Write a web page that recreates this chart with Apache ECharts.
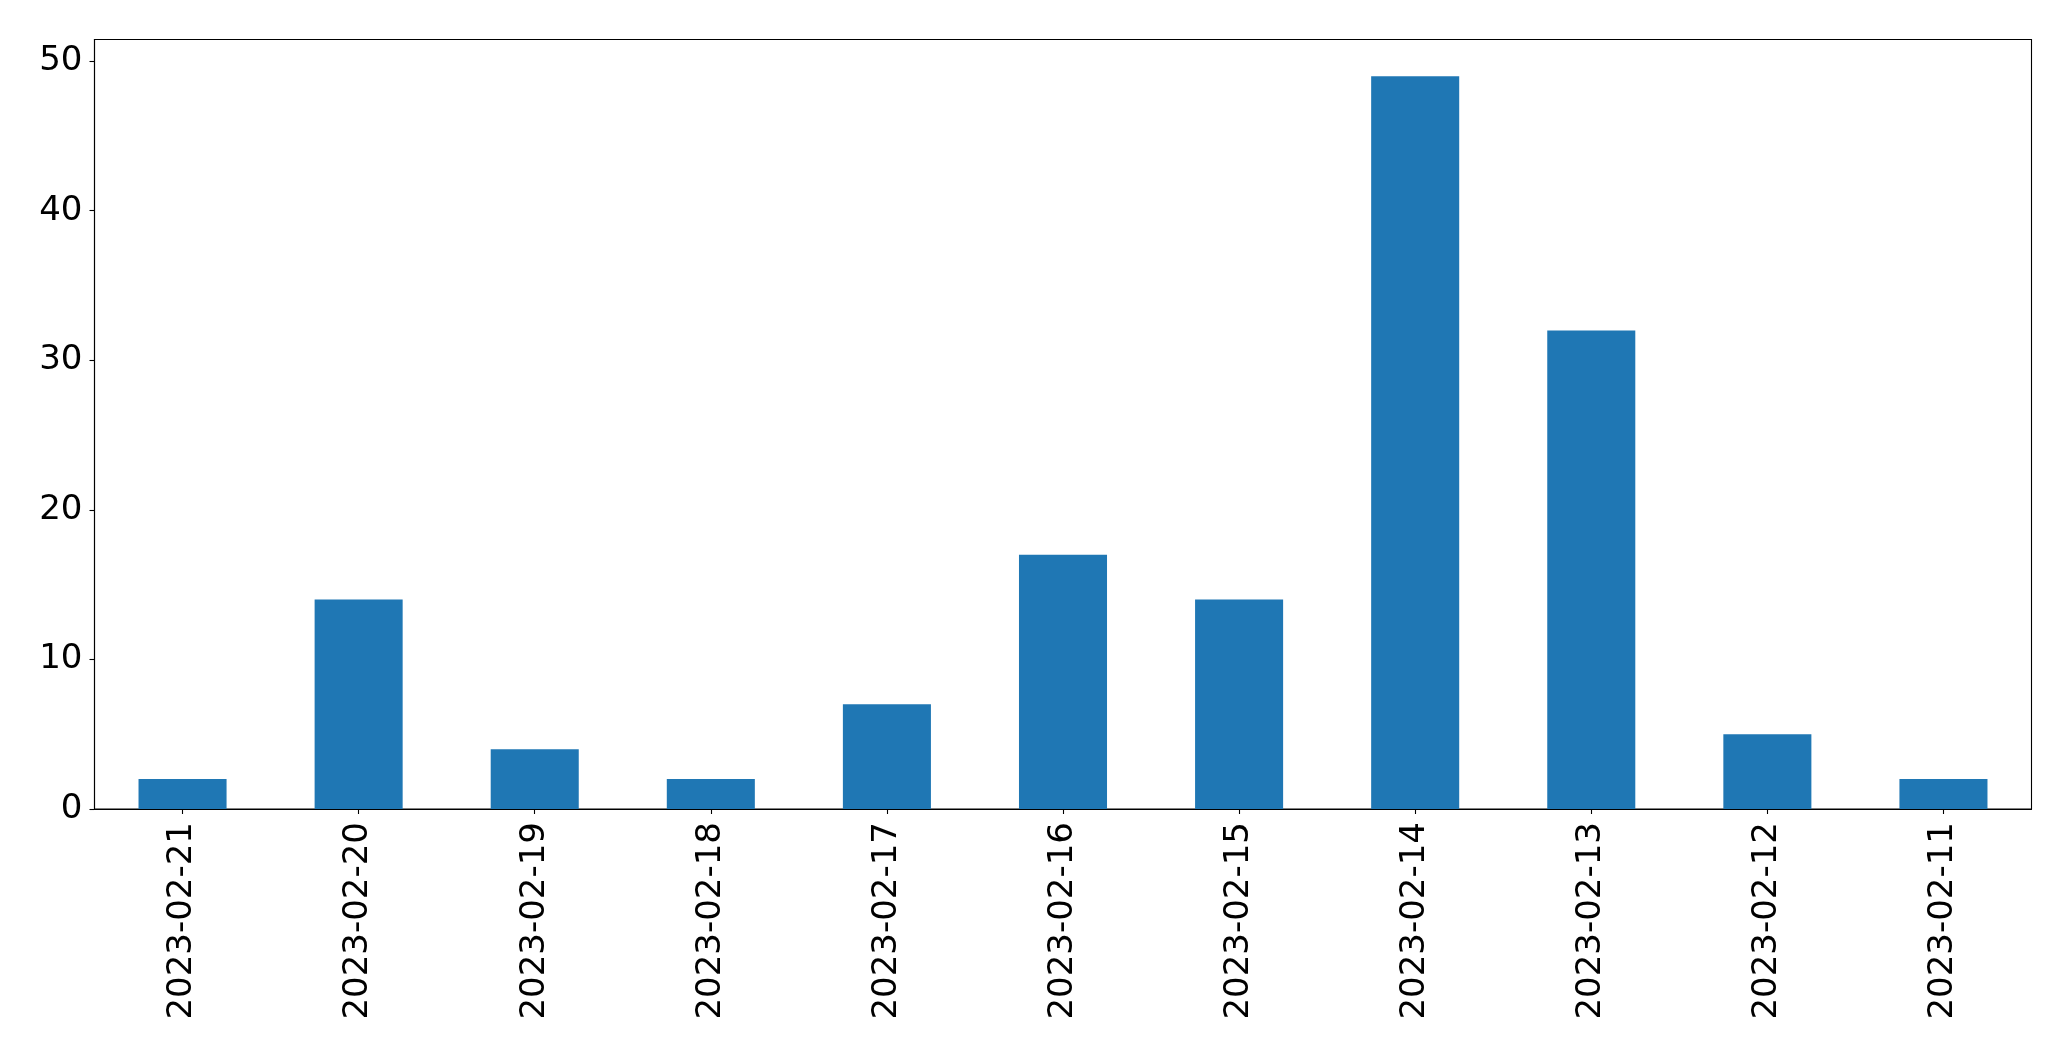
<!DOCTYPE html>
<html>
<head>
<meta charset="utf-8">
<script src="https://cdn.jsdelivr.net/npm/echarts@6/dist/echarts.min.js"></script>
<style>
html,body{margin:0;padding:0;background:#fff;}
#chart{width:2071px;height:1061px;}
</style>
</head>
<body>
<div id="chart"></div>
<script>
const categories = ["2023-02-21","2023-02-20","2023-02-19","2023-02-18","2023-02-17","2023-02-16","2023-02-15","2023-02-14","2023-02-13","2023-02-12","2023-02-11"];
const values = [2, 14, 4, 2, 7, 17, 14, 49, 32, 5, 2];
const yTicks = [0, 10, 20, 30, 40, 50];
const yMax = 51.45;

const chart = echarts.init(document.getElementById('chart'), null, {renderer: 'canvas'});
const font = 'DejaVu Sans';
chart.setOption({
  animation: false,
  backgroundColor: '#fff',
  grid: {
    left: 94.5, right: 39.5, top: 39.5, bottom: 252,
    show: true, borderColor: '#000', borderWidth: 1.1, backgroundColor: 'transparent'
  },
  xAxis: {
    type: 'category',
    data: categories,
    boundaryGap: true,
    axisLine: {show: true, lineStyle: {color: '#000', width: 1.1}},
    axisTick: {show: true, alignWithLabel: true, length: 5, lineStyle: {color: '#000', width: 1.1}},
    axisLabel: {rotate: 90, interval: 0, margin: 13, color: '#000', fontFamily: font, fontSize: 34},
    splitLine: {show: false}
  },
  yAxis: {
    type: 'value',
    min: 0, max: yMax,
    axisLine: {show: true, lineStyle: {color: '#000', width: 1.1}},
    axisTick: {show: true, length: 5, customValues: yTicks, lineStyle: {color: '#000', width: 1.1}},
    axisLabel: {margin: 12, color: '#000', fontFamily: font, fontSize: 34, customValues: yTicks},
    splitLine: {show: false}
  },
  series: [{
    type: 'bar',
    data: values,
    barWidth: '50%',
    itemStyle: {color: '#1f77b4'}
  }]
});
</script>
</body>
</html>
